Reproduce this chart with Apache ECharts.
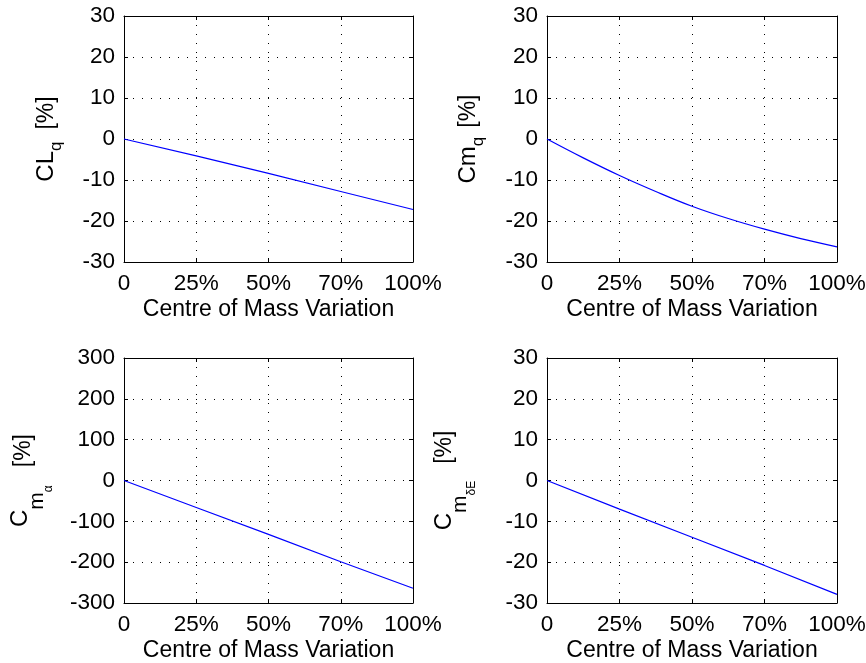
<!DOCTYPE html>
<html><head><meta charset="utf-8">
<script src="https://cdn.jsdelivr.net/npm/echarts@6/dist/echarts.min.js"></script>
<style>html,body{margin:0;padding:0;background:#fff}#c{width:866px;height:663px}</style>
</head><body><div id="c"></div>
<script>
// ---- data ----
const xTickLabels = ['0', '25%', '50%', '70%', '100%'];
const xPosQuarter = [0, 0.25, 0.5, 0.75, 1];
const xPosEighth = [0, 0.125, 0.25, 0.375, 0.5, 0.625, 0.75, 0.875, 1];
const clqValues = [0, -4.1, -8.4, -12.8, -17.2];
const cmqValues = [0, -4.6, -8.9, -12.8, -16.4, -19.4, -22.0, -24.3, -26.3];
const cmaValues = [0, -66, -132, -199, -264];
const cmdeValues = [0, -7.0, -13.9, -20.8, -27.9];
const xTitle = 'Centre of Mass Variation';
const yMin = [-30, -30, -300, -30];
const yMax = [30, 30, 300, 30];
const yStep = [10, 10, 100, 10];

const FONT = "'Liberation Sans', Arial, Helvetica, sans-serif";
const grids = [
  {left: 124, top: 16, width: 289, height: 246},
  {left: 547, top: 16, width: 290, height: 246},
  {left: 124, top: 358, width: 289, height: 245},
  {left: 547, top: 358, width: 290, height: 245}
].map(g => Object.assign(g, {outerBoundsMode: 'none', containLabel: false}));

const yNames = [
  {name: '{a|CL}{b|q}{c|[%]}', gap: 59, rich: {
    a: {fontSize: 24, padding: [0, 0, 0, 0]},
    b: {fontSize: 17, padding: [20, 0, 0, 0]},
    c: {fontSize: 23, padding: [1, 0, 0, 12]}}},
  {name: '{a|Cm}{b|q}{c|[%]}', gap: 60, rich: {
    a: {fontSize: 24, padding: [0, 0, 0, 0]},
    b: {fontSize: 17, padding: [20, 0, 0, 0]},
    c: {fontSize: 23, padding: [1, 0, 0, 9]}}},
  {name: '{a|C}{b|m}{d|α}{c|[%]}', gap: 69, rich: {
    a: {fontSize: 24, padding: [0, 0, 0, 0]},
    b: {fontSize: 21, padding: [33, 0, 0, 0]},
    d: {fontSize: 12, padding: [57, 0, 0, 0]},
    c: {fontSize: 23, padding: [7, 0, 0, 18]}}},
  {name: '{a|C}{b|m}{d|δE}{c|[%]}', gap: 69, rich: {
    a: {fontSize: 24, padding: [0, 0, 0, 0]},
    b: {fontSize: 21, padding: [31, 0, 0, 0]},
    d: {fontSize: 12, padding: [55, 0, 0, 0]},
    c: {fontSize: 23, padding: [0, 0, 0, 17]}}}
];
Object.values(yNames).forEach(n => Object.values(n.rich).forEach(r => { r.fontFamily = FONT; r.color = '#000'; }));

const black = {color: '#000', width: 1};
const xAxes = [], yAxes = [];
for (let i = 0; i < 4; i++) {
  xAxes.push({
    type: 'value', gridIndex: i, min: 0, max: 1, interval: 0.25, position: 'bottom',
    axisLine: {show: true, onZero: false, lineStyle: black},
    axisTick: {show: true, inside: true, length: 4, lineStyle: black},
    axisLabel: {formatter: v => xTickLabels[Math.round(v / 0.25)], color: '#000', fontSize: 22.5, fontFamily: FONT, margin: 10},
    splitLine: {show: true, lineStyle: {type: [1, 8], color: '#000', width: 1}},
    name: xTitle, nameLocation: 'middle', nameGap: 36,
    nameTextStyle: {color: '#000', fontSize: 23, fontFamily: FONT}
  });
  xAxes.push({
    type: 'value', gridIndex: i, min: 0, max: 1, interval: 0.25, position: 'top',
    axisLine: {show: true, onZero: false, lineStyle: black},
    axisTick: {show: true, inside: true, length: 4, lineStyle: black},
    axisLabel: {show: false}, splitLine: {show: false}
  });
  yAxes.push({
    type: 'value', gridIndex: i, min: yMin[i], max: yMax[i], interval: yStep[i], position: 'left',
    axisLine: {show: true, onZero: false, lineStyle: black},
    axisTick: {show: true, inside: true, length: 4, lineStyle: black},
    axisLabel: {color: '#000', fontSize: 22.5, fontFamily: FONT, margin: 9},
    splitLine: {show: true, lineStyle: {type: [1, 8], color: '#000', width: 1}},
    name: yNames[i].name, nameLocation: 'middle', nameRotate: 90, nameGap: yNames[i].gap,
    nameTextStyle: {color: '#000', fontSize: 24, fontFamily: FONT, rich: yNames[i].rich}
  });
  yAxes.push({
    type: 'value', gridIndex: i, min: yMin[i], max: yMax[i], interval: yStep[i], position: 'right',
    axisLine: {show: true, onZero: false, lineStyle: black},
    axisTick: {show: true, inside: true, length: 4, lineStyle: black},
    axisLabel: {show: false}, splitLine: {show: false}
  });
}

const zip = (xs, ys) => xs.map((x, k) => [x, ys[k]]);
const seriesData = [zip(xPosQuarter, clqValues), zip(xPosEighth, cmqValues), zip(xPosQuarter, cmaValues), zip(xPosQuarter, cmdeValues)];
const series = seriesData.map((d, i) => ({
  type: 'line', xAxisIndex: 2 * i, yAxisIndex: 2 * i, data: d, smooth: i === 1 ? 0.4 : false,
  showSymbol: false, symbol: 'none', lineStyle: {color: '#0000ff', width: 1.2}, animation: false, silent: true
}));

const chart = echarts.init(document.getElementById('c'), null, {renderer: 'canvas'});
chart.setOption({
  backgroundColor: '#fff', animation: false,
  grid: grids, xAxis: xAxes, yAxis: yAxes, series: series
});
</script></body></html>
